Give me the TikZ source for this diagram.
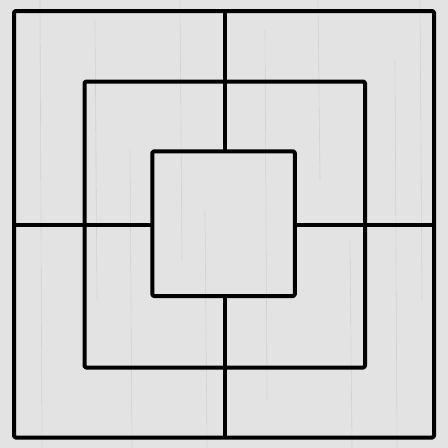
\documentclass[tikz,border=0pt]{standalone}
\definecolor{boardbg}{HTML}{E3E3E3}
\definecolor{grain}{HTML}{D2D2D2}
\begin{document}
\begin{tikzpicture}[x=1pt,y=-1pt,
  boardline/.style={line width=4pt, black, rounded corners=1.5pt, line join=round},
  grainline/.style={grain, line width=0.6pt}]
\fill[boardbg] (0,0) rectangle (448,448);
\useasboundingbox (0,0) rectangle (448,448);
% faint wood grain
\foreach \gx/\ga/\gb in {40/0/448, 95/20/300, 130/150/448, 180/0/260, 205/210/448, 265/30/400, 318/0/180, 350/240/448, 395/60/448, 420/0/300}{
  \draw[grainline] (\gx,\ga) -- (\gx+2,\gb);
}
% squares
\draw[boardline] (14,11) rectangle (434,437.5);
\draw[boardline] (84.5,81.5) rectangle (365,367.5);
\draw[boardline] (152.3,151.3) rectangle (294.8,296);
% connecting lines
\draw[boardline] (224.5,11) -- (224.5,151.3);
\draw[boardline] (224.5,296) -- (224.5,437.5);
\draw[boardline] (14,224.5) -- (152.3,224.5);
\draw[boardline] (294.8,224.5) -- (434,224.5);
\end{tikzpicture}
\end{document}
